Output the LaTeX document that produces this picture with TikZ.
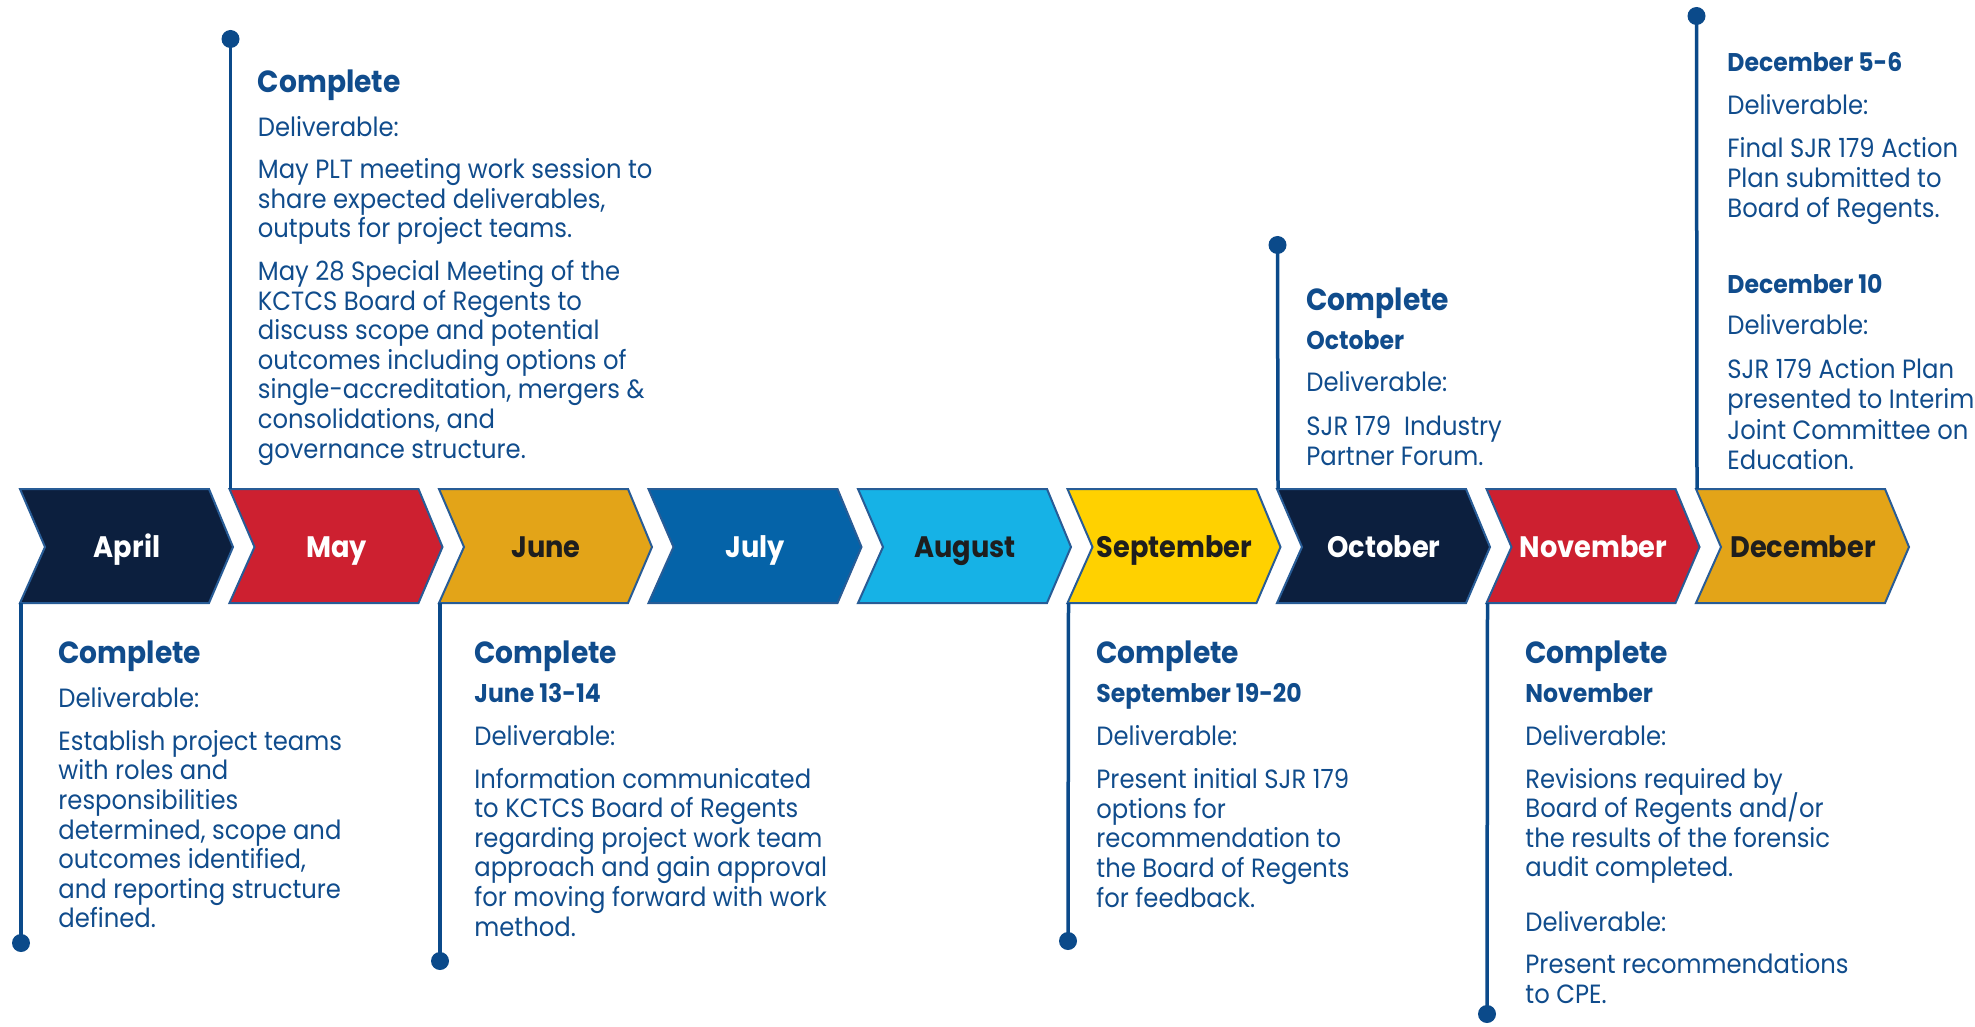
\documentclass[tikz,border=0pt]{standalone}
\usepackage{fontspec}
\setmainfont{Poppins}[FakeStretch=0.92]
\definecolor{cnavy}{RGB}{12,31,62}
\definecolor{cred}{RGB}{205,32,48}
\definecolor{cgold}{RGB}{227,164,24}
\definecolor{cblue}{RGB}{5,99,168}
\definecolor{clight}{RGB}{22,178,230}
\definecolor{cyell}{RGB}{255,209,0}
\definecolor{cdark}{RGB}{30,30,30}
\definecolor{txtblue}{RGB}{16,76,140}
\definecolor{lineblue}{RGB}{11,74,138}
\definecolor{chevline}{RGB}{40,92,150}
\newcommand\bodylines[5]{%
  \foreach \s [count=\k] in {#5} {\node[txt] (#1-\k) at (#2,#3+#4*\k-#4) {\s};}}
\begin{document}
\begin{tikzpicture}[x=0.5pt,y=-0.5pt,
  chev/.style={draw=chevline,line width=1pt,line join=miter},
  mlabel/.style={anchor=base,font=\bfseries\fontsize{14.8}{16}\selectfont,inner sep=0pt},
  txt/.style={anchor=mid west,inner sep=0pt,text=txtblue,font=\fontsize{13.2}{15}\selectfont},
  head/.style={txt,font=\bfseries\fontsize{15.3}{17}\selectfont},
  sub/.style={txt,font=\bfseries\fontsize{12.8}{14}\selectfont},
  stem/.style={draw=lineblue,line width=1.75pt},
  dotn/.style={circle,fill=lineblue,inner sep=0pt,minimum size=9pt}]
\useasboundingbox (0,0) rectangle (1975,1027);
% chevrons
\foreach \i/\m/\c/\t/\n in {0/April/cnavy/white/apr,1/May/cred/white/may,2/June/cgold/cdark/jun,3/July/cblue/white/jul,4/August/clight/cdark/aug,5/September/cyell/cdark/sep,6/October/cnavy/white/oct,7/November/cred/white/nov,8/December/cgold/cdark/dec}{
  \pgfmathsetmacro\L{20+209.5*\i}
  \filldraw[chev,fill=\c] (\L,489) -- (\L+189,489) -- (\L+213,547) -- (\L+189,603) -- (\L,603) -- (\L+25,547) -- cycle;
  \node[mlabel,text=\t] (\n) at (\L+107,557) {\m};
  \coordinate (\n T) at (\L+1,489);
  \coordinate (\n B) at (\L+1,603);
}
% stems and dots
\node[dotn] (aprD) at (21,943) {};
\node[dotn] (mayD) at (230.5,39) {};
\node[dotn] (junD) at (440,961) {};
\node[dotn] (sepD) at (1068,941) {};
\node[dotn] (octD) at (1277.5,245) {};
\node[dotn] (novD) at (1487,1014) {};
\node[dotn] (decD) at (1696.5,16) {};
\draw[stem] (aprB) -- (aprD.center);
\draw[stem] (mayT) -- (mayD.center);
\draw[stem] (junB) -- (junD.center);
\draw[stem] (sepB) -- (sepD.center);
\draw[stem] (octT) -- (octD.center);
\draw[stem] (novB) -- (novD.center);
\draw[stem] (decT) -- (decD.center);
\begin{scope}[yshift=-2.75pt]
% April
\node[head] (apH) at (58,652.5) {Complete};
\node[txt] (apL) at (58,696.6) {Deliverable:};
\bodylines{ap}{58}{739.4}{29.6}{Establish project teams,with roles and,responsibilities,{determined, scope and},{outcomes identified,},and reporting structure,defined.}
% May
\node[head] (myH) at (257.5,82) {Complete};
\node[txt] (myL) at (257.5,126) {Deliverable:};
\bodylines{myA}{257.5}{167.5}{29.6}{May PLT meeting work session to,{share expected deliverables,},outputs for project teams.}
\bodylines{myB}{257.5}{269.6}{29.6}{May 28 Special Meeting of the,KCTCS Board of Regents to,discuss scope and potential,outcomes including options of,{single-accreditation, mergers \&},{consolidations, and},governance structure.}
% June
\node[head] (jnH) at (474,652.5) {Complete};
\node[sub] (jnS) at (474,691.5) {June 13-14};
\node[txt] (jnL) at (474,734.3) {Deliverable:};
\bodylines{jn}{474}{777.2}{29.6}{Information communicated,to KCTCS Board of Regents,regarding project work team,approach and gain approval,for moving forward with work,method.}
% September
\node[head] (spH) at (1096,652.5) {Complete};
\node[sub] (spS) at (1096,691.5) {September 19-20};
\node[txt] (spL) at (1096,734.3) {Deliverable:};
\bodylines{sp}{1096}{777.2}{29.9}{Present initial SJR 179,options for,recommendation to,the Board of Regents,for feedback.}
% October
\node[head] (ocH) at (1306,299.8) {Complete};
\node[sub] (ocS) at (1306,338.8) {October};
\node[txt] (ocL) at (1306,380.4) {Deliverable:};
\bodylines{oc}{1306}{424.5}{30.2}{SJR 179\ \ Industry,Partner Forum.}
% November
\node[head] (nvH) at (1525,652.5) {Complete};
\node[sub] (nvS) at (1525,691.5) {November};
\node[txt] (nvL) at (1525,734.3) {Deliverable:};
\bodylines{nvA}{1525}{777.2}{29.6}{Revisions required by,Board of Regents and/or,the results of the forensic,audit completed.}
\node[txt] (nvL2) at (1525,920.8) {Deliverable:};
\bodylines{nvB}{1525}{962.3}{30.2}{Present recommendations,to CPE.}
% December
\node[sub] (dcS1) at (1727,60.5) {December 5-6};
\node[txt] (dcL1) at (1727,103.3) {Deliverable:};
\bodylines{dcA}{1727}{146.1}{30.2}{Final SJR 179 Action,Plan submitted to,Board of Regents.}
\node[sub] (dcS2) at (1727,282.2) {December 10};
\node[txt] (dcL2) at (1727,323.7) {Deliverable:};
\bodylines{dcB}{1727}{367.8}{30.2}{SJR 179 Action Plan,presented to Interim,Joint Committee on,Education.}
\end{scope}
\end{tikzpicture}
\end{document}
